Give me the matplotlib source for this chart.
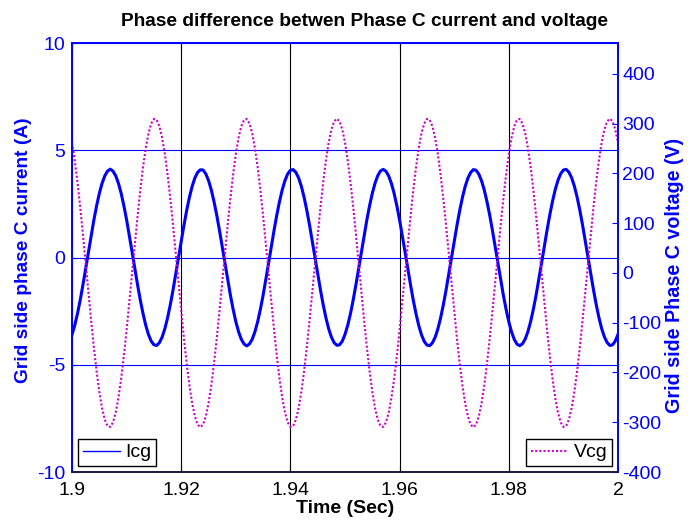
import matplotlib
matplotlib.use("Agg")
import matplotlib.pyplot as plt
import numpy as np

plt.rcParams["font.family"] = ["Liberation Sans", "DejaVu Sans"]
plt.rcParams["axes.unicode_minus"] = False

# sample times (0.5 ms steps from 1.9 s to 2.0 s)
time = np.linspace(1.9, 2.0, 201)

# grid side phase C current (A)
icg = [-3.59, -3.16, -2.61, -1.98, -1.27, -0.51, 0.26, 1.02, 1.75, 2.41,
       2.99, 3.46, 3.81, 4.03, 4.12, 4.03, 3.81, 3.46, 2.99, 2.41,
       1.75, 1.02, 0.26, -0.51, -1.27, -1.98, -2.61, -3.16, -3.59, -3.90,
       -4.07, -4.10, -3.97, -3.71, -3.32, -2.81, -2.20, -1.51, -0.77, 0.00,
       0.77, 1.51, 2.20, 2.81, 3.32, 3.71, 3.97, 4.09, 4.08, 3.90,
       3.59, 3.16, 2.61, 1.98, 1.27, 0.51, -0.26, -1.02, -1.75, -2.41,
       -2.99, -3.46, -3.81, -4.03, -4.12, -4.03, -3.81, -3.46, -2.99, -2.41,
       -1.75, -1.02, -0.26, 0.51, 1.27, 1.98, 2.61, 3.16, 3.59, 3.90,
       4.07, 4.10, 3.97, 3.71, 3.32, 2.81, 2.20, 1.51, 0.77, 0.00,
       -0.77, -1.51, -2.20, -2.81, -3.32, -3.71, -3.97, -4.09, -4.07, -3.90,
       -3.58, -3.15, -2.61, -1.97, -1.26, -0.50, 0.27, 1.03, 1.76, 2.42,
       3.00, 3.47, 3.82, 4.04, 4.11, 4.02, 3.80, 3.45, 2.98, 2.40,
       1.74, 1.01, 0.25, -0.52, -1.28, -1.99, -2.62, -3.17, -3.60, -3.91,
       -4.08, -4.11, -3.98, -3.72, -3.33, -2.82, -2.21, -1.52, -0.78, -0.01,
       0.76, 1.50, 2.19, 2.80, 3.31, 3.70, 3.96, 4.10, 4.07, 3.89,
       3.58, 3.15, 2.60, 1.97, 1.26, 0.50, -0.27, -1.03, -1.76, -2.42,
       -3.00, -3.47, -3.82, -4.04, -4.11, -4.02, -3.80, -3.45, -2.98, -2.40,
       -1.74, -1.01, -0.25, 0.52, 1.28, 1.99, 2.62, 3.17, 3.60, 3.91,
       4.08, 4.11, 3.98, 3.72, 3.33, 2.82, 2.21, 1.52, 0.78, 0.01,
       -0.76, -1.50, -2.19, -2.80, -3.31, -3.70, -3.96, -4.10, -4.07, -3.89,
       -3.58]

# grid side phase C voltage (V)
vcg = [261.7, 226.0, 182.2, 132.0, 77.1, 19.5, -38.9, -95.8, -149.3, -197.6,
       -238.9, -271.7, -294.8, -307.6, -309.4, -300.3, -280.5, -250.8, -212.2, -166.1,
       -114.1, -58.1, 0.0, 58.1, 114.1, 166.1, 212.2, 250.8, 280.5, 300.3,
       309.4, 307.6, 294.8, 271.7, 238.9, 197.6, 149.3, 95.8, 38.9, -19.5,
       -77.1, -132.0, -182.2, -226.0, -261.7, -288.2, -304.5, -310.0, -304.5, -288.2,
       -261.7, -226.0, -182.2, -132.0, -77.1, -19.5, 38.9, 95.8, 149.3, 197.6,
       238.9, 271.7, 294.8, 307.6, 309.4, 300.3, 280.5, 250.8, 212.2, 166.1,
       114.1, 58.1, 0.0, -58.1, -114.1, -166.1, -212.2, -250.8, -280.5, -300.3,
       -309.4, -307.6, -294.8, -271.7, -238.9, -197.6, -149.3, -95.8, -38.9, 19.5,
       77.1, 132.0, 182.2, 226.0, 261.7, 288.2, 304.5, 310.0, 304.5, 288.2,
       261.7, 226.0, 182.2, 132.0, 77.1, 19.5, -38.9, -95.8, -149.3, -197.6,
       -238.9, -271.7, -294.8, -307.6, -309.4, -300.3, -280.5, -250.8, -212.2, -166.1,
       -114.1, -58.1, 0.0, 58.1, 114.1, 166.1, 212.2, 250.8, 280.5, 300.3,
       309.4, 307.6, 294.8, 271.7, 238.9, 197.6, 149.3, 95.8, 38.9, -19.5,
       -77.1, -132.0, -182.2, -226.0, -261.7, -288.2, -304.5, -310.0, -304.5, -288.2,
       -261.7, -226.0, -182.2, -132.0, -77.1, -19.5, 38.9, 95.8, 149.3, 197.6,
       238.9, 271.7, 294.8, 307.6, 309.4, 300.3, 280.5, 250.8, 212.2, 166.1,
       114.1, 58.1, 0.0, -58.1, -114.1, -166.1, -212.2, -250.8, -280.5, -300.3,
       -309.4, -307.6, -294.8, -271.7, -238.9, -197.6, -149.3, -95.8, -38.9, 19.5,
       77.1, 132.0, 182.2, 226.0, 261.7, 288.2, 304.5, 310.0, 304.5, 288.2,
       261.7]

x_ticks = [1.9, 1.92, 1.94, 1.96, 1.98, 2.0]
x_labels = ["1.9", "1.92", "1.94", "1.96", "1.98", "2"]
left_ticks = [-10, -5, 0, 5, 10]
right_ticks = [-400, -300, -200, -100, 0, 100, 200, 300, 400]

blue = "#0000ff"
mag = "#cc00cc"

fig = plt.figure(figsize=(6.88, 5.21), dpi=100)
ax1 = fig.add_axes([0.1047, 0.094, 0.7936, 0.8234])
ax2 = ax1.twinx()

l1, = ax1.plot(time, icg, color=blue, lw=2.2, label="Icg")
l2, = ax2.plot(time, vcg, color=mag, lw=1.5, ls=(0, (1, 1)), label="Vcg")

ax1.set_xlim(1.9, 2.0)
ax1.set_ylim(-10, 10)
ax2.set_ylim(-400, 462)
ax1.set_xticks(x_ticks)
ax1.set_xticklabels(x_labels)
ax1.set_yticks(left_ticks)
ax2.set_yticks(right_ticks)

ax1.xaxis.grid(True, color="k", lw=0.8)
ax1.yaxis.grid(True, color=blue, lw=0.8)
ax1.set_axisbelow(True)

ax1.tick_params(axis="x", direction="in", length=4, labelsize=14, top=True,
                colors="k", pad=7)
ax1.tick_params(axis="y", direction="in", length=4, labelsize=14,
                colors=blue, pad=5)
ax2.tick_params(axis="y", direction="in", length=4, labelsize=14,
                colors=blue, pad=3)

for ax in (ax1, ax2):
    ax.spines["left"].set_color(blue)
    ax.spines["right"].set_color(blue)
    ax.spines["top"].set_color(blue)
    ax.spines["bottom"].set_color("#1a1a40")
    for s in ax.spines.values():
        s.set_linewidth(1.2)

ax1.set_title("Phase difference betwen Phase C current and voltage",
              fontsize=13.75, fontweight="bold", pad=12, x=0.535)
ax1.set_xlabel("Time (Sec)", fontsize=14, fontweight="bold", labelpad=1)
ax1.set_ylabel("Grid side phase C current (A)", fontsize=13.8,
               fontweight="bold", color=blue)
ax2.set_ylabel("Grid side Phase C voltage (V)", fontsize=14.2,
               fontweight="bold", color=blue)
ax1.yaxis.set_label_coords(-0.073, 0.5175)
ax2.yaxis.set_label_coords(1.086, 0.459)

leg1 = ax1.legend(handles=[l1], loc="lower left", fontsize=14, fancybox=False,
                  edgecolor="k", framealpha=1, borderaxespad=0.3,
                  handlelength=1.9, borderpad=0.25, handletextpad=0.3)
leg1.get_frame().set_linewidth(1.0)
leg1.get_lines()[0].set_linewidth(1.0)
leg2 = ax2.legend(handles=[l2], loc="lower right", fontsize=14, fancybox=False,
                  edgecolor="k", framealpha=1, borderaxespad=0.3,
                  handlelength=1.9, borderpad=0.25, handletextpad=0.3)
leg2.get_frame().set_linewidth(1.0)

fig.savefig("out.png", dpi=100)
plt.close(fig)
